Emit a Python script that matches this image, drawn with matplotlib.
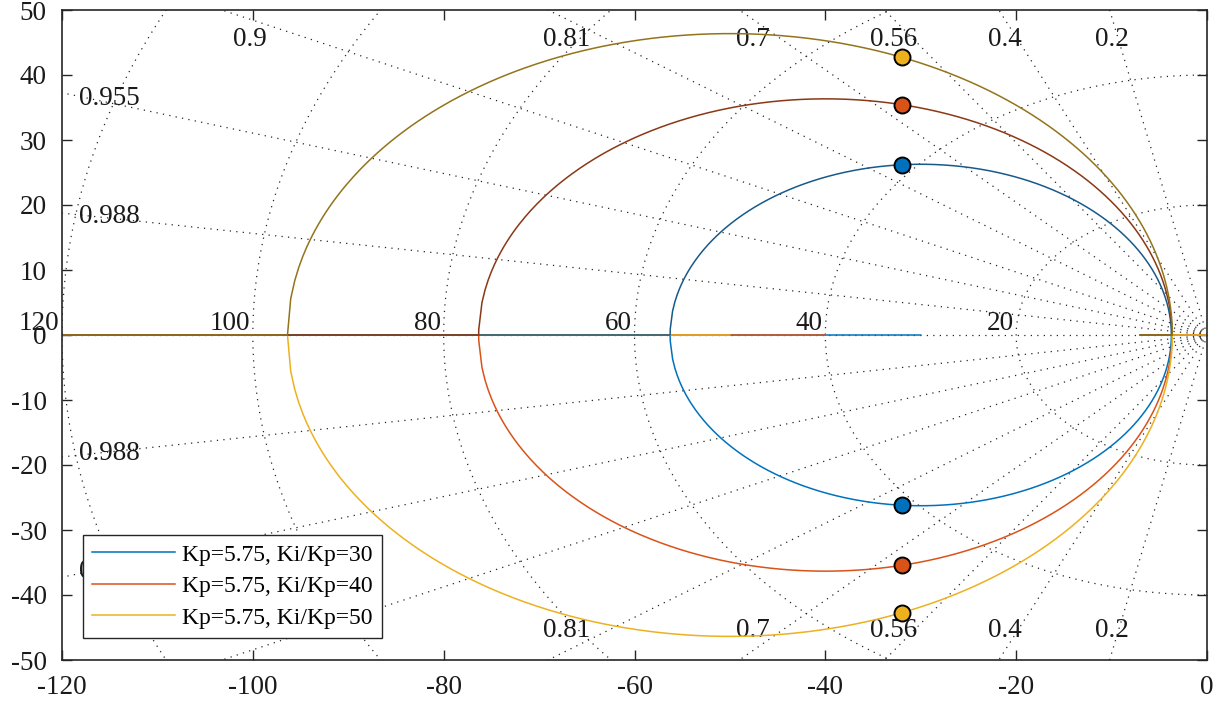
import numpy as np
import matplotlib
matplotlib.use('Agg')
import matplotlib.pyplot as plt

plt.rcParams['font.family'] = ['Liberation Serif', 'DejaVu Serif']
plt.rcParams['axes.unicode_minus'] = False

# ---- data ----
open_loop_poles = [0.0, -7.0]          # plant poles
ki_over_kp = [30, 40, 50]              # PI zero locations (s + Ki/Kp)
loop_gain = 57.0                       # gain of the marked closed-loop poles
series_labels = ['Kp=5.75, Ki/Kp=30', 'Kp=5.75, Ki/Kp=40', 'Kp=5.75, Ki/Kp=50']
bright_colors = ['#0072BD', '#D95319', '#EDB120']
dark_colors = ['#175a8a', '#8a3816', '#93741a']
zeta_values = [0.2, 0.4, 0.56, 0.7, 0.81, 0.9, 0.955, 0.988]
zeta_labels = ['0.2', '0.4', '0.56', '0.7', '0.81', '0.9', '0.955', '0.988']
wn_values = [20, 40, 60, 80, 100, 120]
wn_labels = ['20', '40', '60', '80', '100', '120']
xticks = [-120, -100, -80, -60, -40, -20, 0]
yticks = [-50, -40, -30, -20, -10, 0, 10, 20, 30, 40, 50]

XMIN, XMAX, YMIN, YMAX = -120, 0, -50, 50

fig = plt.figure(figsize=(12.24, 7.09), dpi=100)
ax = fig.add_axes([62/1224, 1-660/709, (1207-62)/1224, (660-10)/709])
ax.set_xlim(XMIN, XMAX)
ax.set_ylim(YMIN, YMAX)

grid_kw = dict(color='0.15', lw=0.9, linestyle=(0, (1.0, 4.2)), zorder=1)
txt_kw = dict(fontsize=19.5, color='#1a1a1a', zorder=1)

# ---- damping lines ----
R = 400
for zt, lab in zip(zeta_values, zeta_labels):
    s = np.sqrt(1 - zt**2)
    ax.plot([0, -zt*R], [0, s*R], **grid_kw)
    ax.plot([0, -zt*R], [0, -s*R], **grid_kw)
    slope = s / zt
    xtop = -48.6 / slope
    if xtop > XMIN:
        ax.text(xtop, 45.4, lab, ha='center', va='center', **txt_kw)
        ax.text(xtop, -45.4, lab, ha='center', va='center', **txt_kw)
    else:
        yl = 118 * slope - 0.2
        ax.text(-118.2, yl, lab, ha='left', va='center', **txt_kw)
        ax.text(-118.2, -yl, lab, ha='left', va='center', **txt_kw)
ax.plot([0, -R], [0, 0], **grid_kw)
ax.plot([0, 0], [-R, R], **grid_kw)

# ---- natural frequency circles ----
th = np.linspace(np.pi/2, 3*np.pi/2, 400)
for wn, lab in zip(wn_values, wn_labels):
    ax.plot(wn*np.cos(th), wn*np.sin(th), **grid_kw)
    ax.text(-wn - 0.25, -0.1, lab, ha='right', va='bottom', clip_on=False, **txt_kw)

# ---- root loci ----
p1, p2 = open_loop_poles
den = np.poly(open_loop_poles)
gains = np.geomspace(1e-3, 1e5, 4000)
uppers, lowers = [], []
for z in ki_over_kp:
    a = -(p1 + p2)
    kb = [(2*z - a) + sgn*np.sqrt((2*z - a)**2 - a**2) for sgn in (-1, 1)]
    K = np.sort(np.concatenate([[0.0], gains, kb]))
    up, lo = [], []
    for k in K:
        r = np.roots([1.0, den[1] + k, den[2] + k*z])
        if abs(r[0].imag) > 1e-9:
            u = r[0] if r[0].imag > 0 else r[1]
            l = np.conj(u)
        else:
            rr = np.sort(r.real)
            u, l = rr[0], rr[1]
        up.append(u)
        lo.append(l)
    uppers.append(np.array(up, dtype=complex))
    lowers.append(np.array(lo, dtype=complex))

handles = []
for i in range(3):
    h, = ax.plot(lowers[i].real, lowers[i].imag, color=bright_colors[i], lw=1.1, zorder=2)
    handles.append(h)
for i in range(3):
    ax.plot(uppers[i].real, uppers[i].imag, color=dark_colors[i], lw=1.1, zorder=3)

# closed-loop poles at the chosen gain
for i, z in enumerate(ki_over_kp):
    cl = np.roots([1.0, den[1] + loop_gain, den[2] + loop_gain*z])
    ax.plot(cl.real, cl.imag, 'o', ms=11.5, mfc=bright_colors[i], mec='black',
            mew=1.4, zorder=5, linestyle='none')

# ---- axes styling ----
ax.set_xticks(xticks)
ax.set_xticklabels([str(v) for v in xticks])
ax.set_yticks(yticks)
ax.set_yticklabels([str(v) for v in yticks])
ax.tick_params(direction='in', length=7, width=1.0, top=True, right=True,
               labelsize=19.5, pad=11, color='#262626', labelcolor='#1a1a1a')
for sp in ax.spines.values():
    sp.set_color('#262626')
    sp.set_linewidth(1.2)
    sp.set_zorder(6)

leg = ax.legend(handles, series_labels, loc='lower left',
                bbox_to_anchor=(0.0183, 0.0338), borderaxespad=0,
                fontsize=17, frameon=True, fancybox=False, framealpha=1,
                edgecolor='#262626', handlelength=3.5, handletextpad=0.3,
                labelspacing=0.42, borderpad=0.4)
leg.get_frame().set_linewidth(1.0)
leg.set_zorder(10)

fig.savefig('out.png', dpi=100)
